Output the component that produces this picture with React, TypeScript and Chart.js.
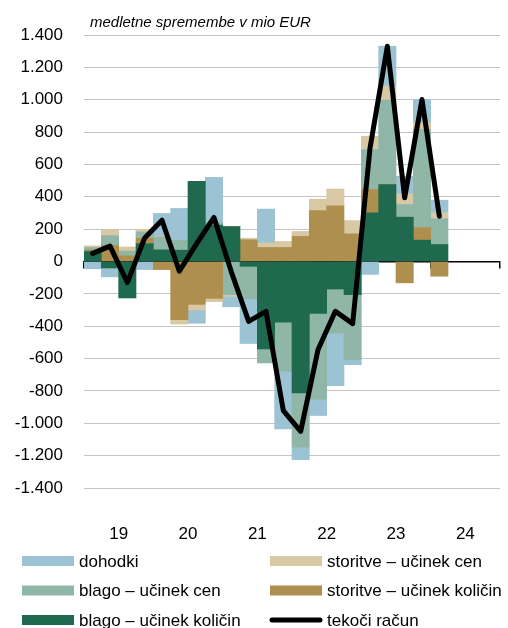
import React, { useEffect, useRef } from 'react';
import { Chart, registerables } from 'chart.js';

Chart.register(...registerables);

// ---------- data ----------
const quarters = [
  '2019Q1', '2019Q2', '2019Q3', '2019Q4',
  '2020Q1', '2020Q2', '2020Q3', '2020Q4',
  '2021Q1', '2021Q2', '2021Q3', '2021Q4',
  '2022Q1', '2022Q2', '2022Q3', '2022Q4',
  '2023Q1', '2023Q2', '2023Q3', '2023Q4',
  '2024Q1',
];
const yearLabels = ['19', '20', '21', '22', '23', '24'];

const blagoKolicin = [62, -40, -225, 110, 72, 70, 495, 225, 216, -30, -540, -375, -812, -321, -170, -205, 301, 476, 274, 132, 105];
const storitveKolicin = [10, 100, 35, 33, -50, -360, -265, -228, 0, 134, 87, 87, 155, 315, 344, 171, 144, 0, -132, 77, -91];
const blagoCen = [15, 60, 30, 40, 80, 62, 0, 15, -205, -200, -87, -303, -336, -532, -272, -402, 247, 521, 78, 608, 159];
const storitveCen = [10, 34, 25, 16, 5, -27, -35, -20, -10, 10, 27, 37, 31, 70, 104, 82, 82, 87, 66, 41, 37];
const dohodki = [-45, -55, 0, -50, 140, 196, -82, 280, -65, -277, 210, -357, -77, -99, -326, -31, -80, 247, 109, 144, 78];
const tekociRacun = [50, 95, -130, 146, 255, -60, 110, 272, -64, -370, -308, -922, -1050, -546, -308, -384, 700, 1330, 394, 1001, 280];

const subtitle = 'medletne spremembe v mio EUR';

const FONT = '"Liberation Sans", Arial, sans-serif';
const COLORS = {
  dohodki: '#9CC3D3',
  storitveCen: '#D8C9A4',
  blagoCen: '#8FB6A6',
  storitveKolicin: '#AE8F4E',
  blagoKolicin: '#1F6A4F',
  line: '#000000',
};

const LABELS = {
  dohodki: 'dohodki',
  storitveCen: 'storitve – učinek cen',
  blagoCen: 'blago – učinek cen',
  storitveKolicin: 'storitve – učinek količin',
  blagoKolicin: 'blago – učinek količin',
  line: 'tekoči račun',
};

const legendColumns = [
  ['dohodki', 'blagoCen', 'blagoKolicin'],
  ['storitveCen', 'storitveKolicin', 'line'],
];

const QUARTERS_PER_YEAR = 4;
const totalQuarters = yearLabels.length * QUARTERS_PER_YEAR;

function toPoints(values: number[]) {
  return values.map((v, i) => ({ x: i + 0.5, y: v }));
}

function fmt(v: number) {
  const s = Math.abs(v).toString().replace(/\B(?=(\d{3})+(?!\d))/g, '.');
  return (v < 0 ? '-' : '') + s;
}

const overlayPlugin = {
  id: 'overlay',
  afterDraw(chart: any) {
    const ctx = chart.ctx as CanvasRenderingContext2D;
    const ca = chart.chartArea;
    ctx.save();
    // subtitle
    ctx.font = `italic 15px ${FONT}`;
    ctx.fillStyle = '#000';
    ctx.textBaseline = 'alphabetic';
    ctx.textAlign = 'left';
    ctx.fillText(subtitle, ca.left + 6, ca.top - 8);

    // legend
    const colX = [22, 270];
    const rowY = [561, 590.5, 620];
    const boxW = 52;
    const boxH = 10;
    ctx.font = `17px ${FONT}`;
    ctx.textBaseline = 'middle';
    legendColumns.forEach((col, c) => {
      col.forEach((key, r) => {
        const x = colX[c];
        const y = rowY[r];
        const color = (COLORS as any)[key];
        if (key === 'line') {
          ctx.strokeStyle = color;
          ctx.lineWidth = 5;
          ctx.lineCap = 'round';
          ctx.beginPath();
          ctx.moveTo(x + 2, y);
          ctx.lineTo(x + boxW - 2, y);
          ctx.stroke();
        } else {
          ctx.fillStyle = color;
          ctx.fillRect(x, y - boxH / 2, boxW, boxH);
        }
        ctx.fillStyle = '#000';
        ctx.fillText((LABELS as any)[key], x + boxW + 5, y + 1);
      });
    });
    ctx.restore();
  },
};

export default function App() {
  const canvasRef = useRef<HTMLCanvasElement | null>(null);

  useEffect(() => {
    if (!canvasRef.current) return;
    const barDs = (key: string, values: number[]) => ({
      type: 'bar' as const,
      label: (LABELS as any)[key],
      data: toPoints(values),
      backgroundColor: (COLORS as any)[key],
      borderWidth: 0,
      stack: 'bars',
      barPercentage: 1,
      categoryPercentage: 1,
      xAxisID: 'x',
      yAxisID: 'y',
    });

    const noSidePadding = (axis: any) => {
      axis.paddingLeft = 0;
      axis.paddingRight = 0;
    };

    const chart = new Chart(canvasRef.current, {
      type: 'bar',
      data: {
        datasets: [
          barDs('blagoKolicin', blagoKolicin),
          barDs('storitveKolicin', storitveKolicin),
          barDs('blagoCen', blagoCen),
          barDs('storitveCen', storitveCen),
          barDs('dohodki', dohodki),
          {
            type: 'line' as const,
            label: LABELS.line,
            data: toPoints(tekociRacun),
            borderColor: COLORS.line,
            backgroundColor: COLORS.line,
            borderWidth: 5,
            pointRadius: 0,
            tension: 0,
            stack: 'line',
            order: -1,
            borderJoinStyle: 'round',
            borderCapStyle: 'round',
            xAxisID: 'x',
            yAxisID: 'y',
          } as any,
        ],
      },
      options: {
        animation: false,
        responsive: false,
        devicePixelRatio: 1,
        layout: { padding: { left: 15, right: 8, top: 35, bottom: 86 } },
        plugins: {
          legend: { display: false },
          tooltip: { enabled: false },
          title: { display: false },
        },
        scales: {
          x: {
            type: 'linear',
            position: { y: 0 } as any,
            min: 0,
            max: totalQuarters,
            offset: false,
            z: 1,
            ticks: { display: false, stepSize: QUARTERS_PER_YEAR },
            grid: {
              offset: false,
              drawOnChartArea: false,
              drawTicks: true,
              tickLength: 6,
              color: '#000',
              lineWidth: 1.5,
            },
            border: { display: true, color: '#000', width: 1.5 },
            afterFit: noSidePadding,
          },
          xLabels: {
            type: 'linear',
            axis: 'x',
            position: 'bottom',
            min: 0,
            max: totalQuarters,
            offset: false,
            afterBuildTicks: (axis: any) => {
              axis.ticks = yearLabels.map((_, k) => ({ value: k * QUARTERS_PER_YEAR + QUARTERS_PER_YEAR / 2 }));
            },
            afterFit: (axis: any) => {
              axis.height = 54;
              axis.paddingLeft = 0;
              axis.paddingRight = 0;
            },
            ticks: {
              autoSkip: false,
              maxRotation: 0,
              padding: 36,
              color: '#000',
              font: { family: FONT, size: 17 },
              callback: (_v: any, i: number) => yearLabels[i],
            },
            grid: { display: false, drawTicks: false },
            border: { display: false },
          } as any,
          y: {
            type: 'linear',
            stacked: true,
            min: -1400,
            max: 1400,
            afterFit: (axis: any) => {
              axis.width = 69;
            },
            ticks: {
              stepSize: 200,
              padding: 21,
              color: '#000',
              font: { family: FONT, size: 17 },
              callback: (v: any) => fmt(Number(v)),
            },
            grid: { color: '#c4c4c4', lineWidth: 1, drawTicks: false },
            border: { display: false },
          },
        },
      } as any,
      plugins: [overlayPlugin],
    });
    return () => chart.destroy();
  }, []);

  return (
    <div style={{ position: 'fixed', left: 0, top: 0, width: 508, height: 628, background: '#fff' }}>
      <canvas ref={canvasRef} width={508} height={628} style={{ display: 'block' }} />
    </div>
  );
}
